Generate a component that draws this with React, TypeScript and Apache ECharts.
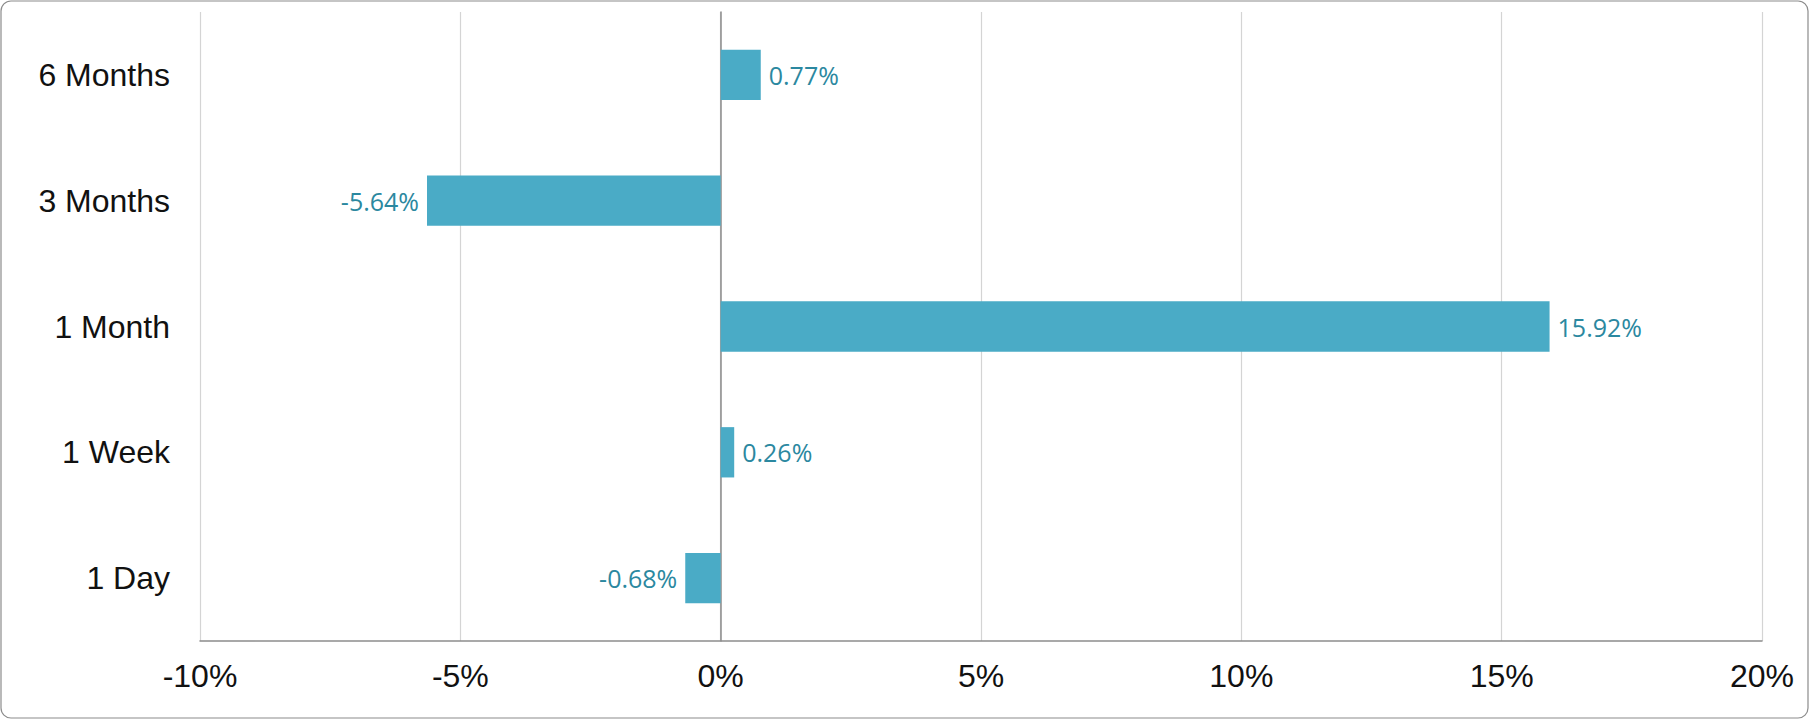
import React, { useEffect, useRef } from "react";
import * as echarts from "echarts";

const categories = ["1 Day", "1 Week", "1 Month", "3 Months", "6 Months"];
const values = [-0.68, 0.26, 15.92, -5.64, 0.77];
const axisMin = -10;
const axisMax = 20;
const axisInterval = 5;

export default function App() {
  const ref = useRef<HTMLDivElement>(null);
  useEffect(() => {
    document.body.style.margin = "0";
    const chart = echarts.init(ref.current!, null, { renderer: "svg" });
    chart.setOption({
      animation: false,
      backgroundColor: "#ffffff",
      graphic: [
        {
          type: "rect",
          shape: { x: 1, y: 1, width: 1807, height: 717, r: 10 },
          style: { fill: "none", stroke: "#8c8c8c", lineWidth: 1.2 },
          silent: true,
        },
      ],
      grid: { left: 200, right: 48, top: 12, bottom: 79, containLabel: false },
      xAxis: {
        type: "value",
        min: axisMin,
        max: axisMax,
        interval: axisInterval,
        axisLine: { show: true, onZero: false, lineStyle: { color: "#8c8c8c", width: 1.5 } },
        axisTick: { show: false },
        splitLine: { show: true, lineStyle: { color: "#d4d4d4", width: 1.2 } },
        axisLabel: {
          formatter: (v: number) => `${v}%`,
          color: "#111",
          fontFamily: "Liberation Sans, Arial, sans-serif",
          fontSize: 32,
          margin: 19,
        },
      },
      yAxis: {
        type: "category",
        data: categories,
        axisLine: { show: true, onZero: true, lineStyle: { color: "#8c8c8c", width: 1.5 } },
        axisTick: { show: false },
        splitLine: { show: false },
        axisLabel: {
          color: "#111",
          fontFamily: "Liberation Sans, Arial, sans-serif",
          fontSize: 32,
          margin: 30,
        },
      },
      series: [
        {
          type: "bar",
          barCategoryGap: "60%",
          data: values.map((v) => ({
            value: v,
            label: { position: v < 0 ? "left" : "right" },
          })),
          itemStyle: { color: "#4aabc6" },
          label: {
            show: true,
            distance: 8,
            formatter: (p: any) => `${p.value.toFixed(2)}%`,
            color: "#2b88a0",
            fontFamily: "Open Sans, DejaVu Sans, sans-serif",
            fontSize: 25,
          },
        },
      ],
    });
    return () => chart.dispose();
  }, []);
  return <div ref={ref} style={{ width: 1810, height: 720 }} />;
}
